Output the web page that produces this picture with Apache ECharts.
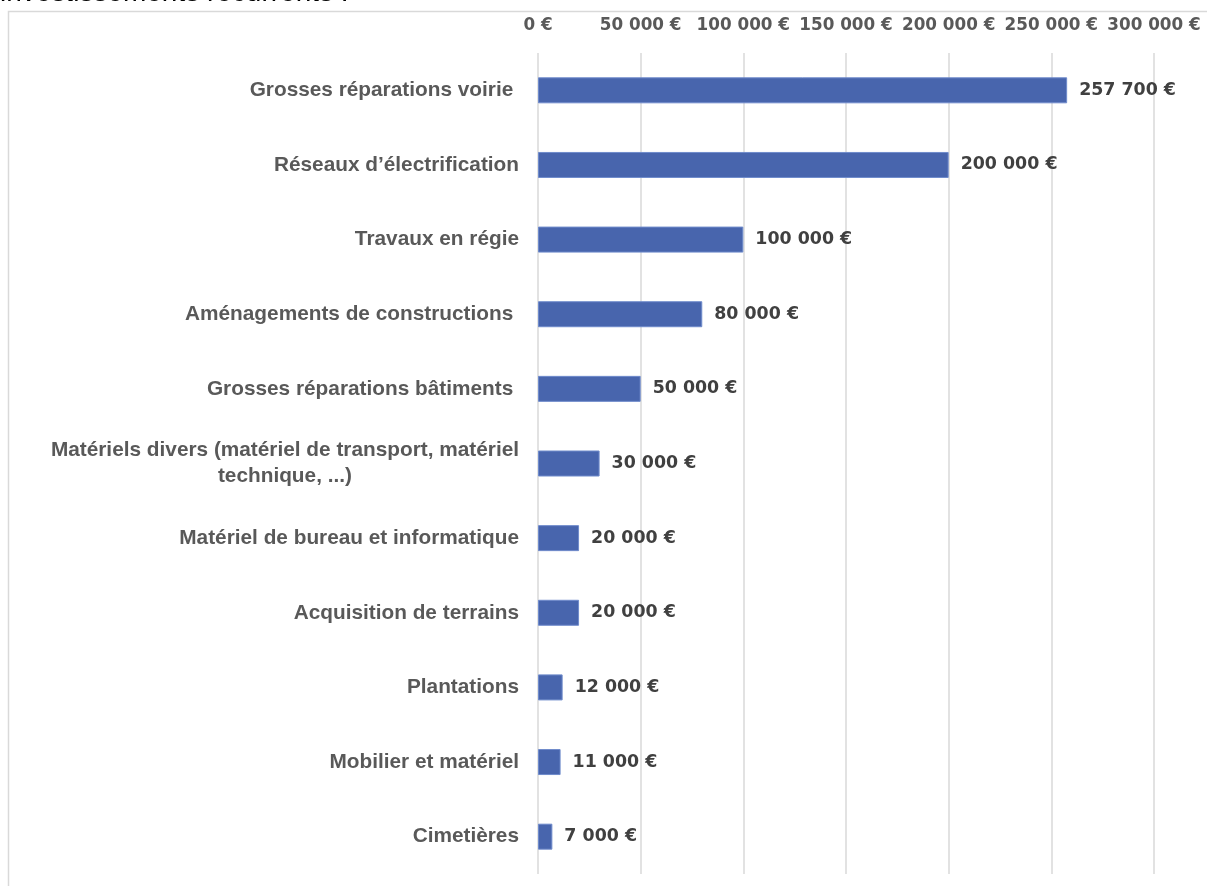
<!DOCTYPE html>
<html>
<head>
<meta charset="utf-8">
<script src="https://cdn.jsdelivr.net/npm/echarts@6/dist/echarts.min.js"></script>
<style>
html,body{margin:0;padding:0;background:#fff;}
#main{width:1207px;height:886px;}
</style>
</head>
<body>
<div id="main"></div>
<script>
// postes d'investissement (ordre du haut vers le bas)
var categories = [
    'Grosses réparations voirie ',
    'Réseaux d\u2019électrification',
    'Travaux en régie',
    'Aménagements de constructions ',
    'Grosses réparations bâtiments ',
    'Matériels divers (matériel de transport, matériel\ntechnique, ...)',
    'Matériel de bureau et informatique',
    'Acquisition de terrains',
    'Plantations',
    'Mobilier et matériel',
    'Cimetières'
];
var values = [257700, 200000, 100000, 80000, 50000, 30000, 20000, 20000, 12000, 11000, 7000];

function euro(v) {
    return String(v).replace(/\B(?=(\d{3})+(?!\d))/g, ' ') + ' €';
}

var myChart = echarts.init(document.getElementById('main'));
var option = {
    backgroundColor: '#fff',
    animation: false,
    graphic: [
        {
            type: 'rect',
            shape: {x: 8.5, y: 11.5, width: 1400, height: 1000},
            style: {fill: 'none', stroke: '#d9d9d9', lineWidth: 1.5},
            silent: true
        },
        {
            type: 'text',
            left: 0,
            top: -21,
            style: {
                text: 'investissements récurrents :',
                font: '28px "Liberation Sans", Arial, sans-serif',
                fill: '#000'
            },
            silent: true
        }
    ],
    grid: {left: 538, right: 53, top: 53, bottom: 12, containLabel: false},
    xAxis: {
        type: 'value',
        position: 'top',
        min: 0,
        max: 300000,
        interval: 50000,
        axisLine: {show: false},
        axisTick: {show: false},
        splitLine: {lineStyle: {color: '#d9d9d9', width: 1.5}},
        axisLabel: {
            margin: 19,
            color: '#595959',
            fontFamily: '"DejaVu Sans", sans-serif',
            fontWeight: 'bold',
            fontSize: 16.8,
            formatter: euro
        }
    },
    yAxis: {
        type: 'category',
        inverse: true,
        data: categories,
        axisLine: {show: false},
        axisTick: {show: false},
        axisLabel: {
            margin: 19,
            formatter: function (v) {
                return v.split('\n').map(function (s) { return '{c|' + s + '}'; }).join('\n');
            },
            rich: {
                c: {
                    align: 'center',
                    color: '#595959',
                    fontFamily: '"Liberation Sans", Arial, sans-serif',
                    fontWeight: 'bold',
                    fontSize: 20.8,
                    lineHeight: 26
                }
            }
        }
    },
    series: [{
        type: 'bar',
        data: values,
        barWidth: 26,
        itemStyle: {color: '#4865ad', borderColor: '#6f8bcb', borderWidth: 1},
        label: {
            show: true,
            position: 'right',
            distance: 12,
            color: '#404040',
            fontFamily: '"DejaVu Sans", sans-serif',
            fontWeight: 'bold',
            fontSize: 17.4,
            formatter: function (p) { return euro(p.value); }
        }
    }]
};
myChart.setOption(option);
</script>
</body>
</html>
